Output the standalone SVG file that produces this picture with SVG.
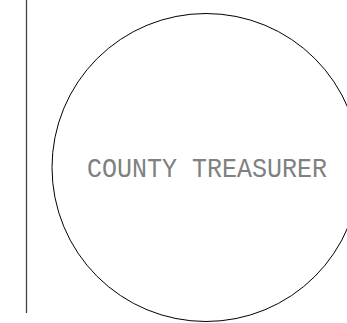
<svg xmlns="http://www.w3.org/2000/svg" width="347" height="323" viewBox="0 0 347 323">
<style>
.edge{stroke:#444;stroke-width:1.3;fill:none}
.node{stroke:#000;stroke-width:1;fill:none}
.lbl{font-family:"Liberation Mono","Courier New",monospace;font-size:27px;fill:#808080}
</style>
<rect width="347" height="323" fill="#fff"/>
<g id="connectors">
<line class="edge" x1="26.5" y1="0" x2="26.5" y2="313"/>
</g>
<g id="county-treasurer">
<circle class="node" cx="206" cy="167.5" r="154"/>
<text class="lbl" x="87" y="176.5" textLength="240" lengthAdjust="spacingAndGlyphs">COUNTY TREASURER</text>
</g>
</svg>
